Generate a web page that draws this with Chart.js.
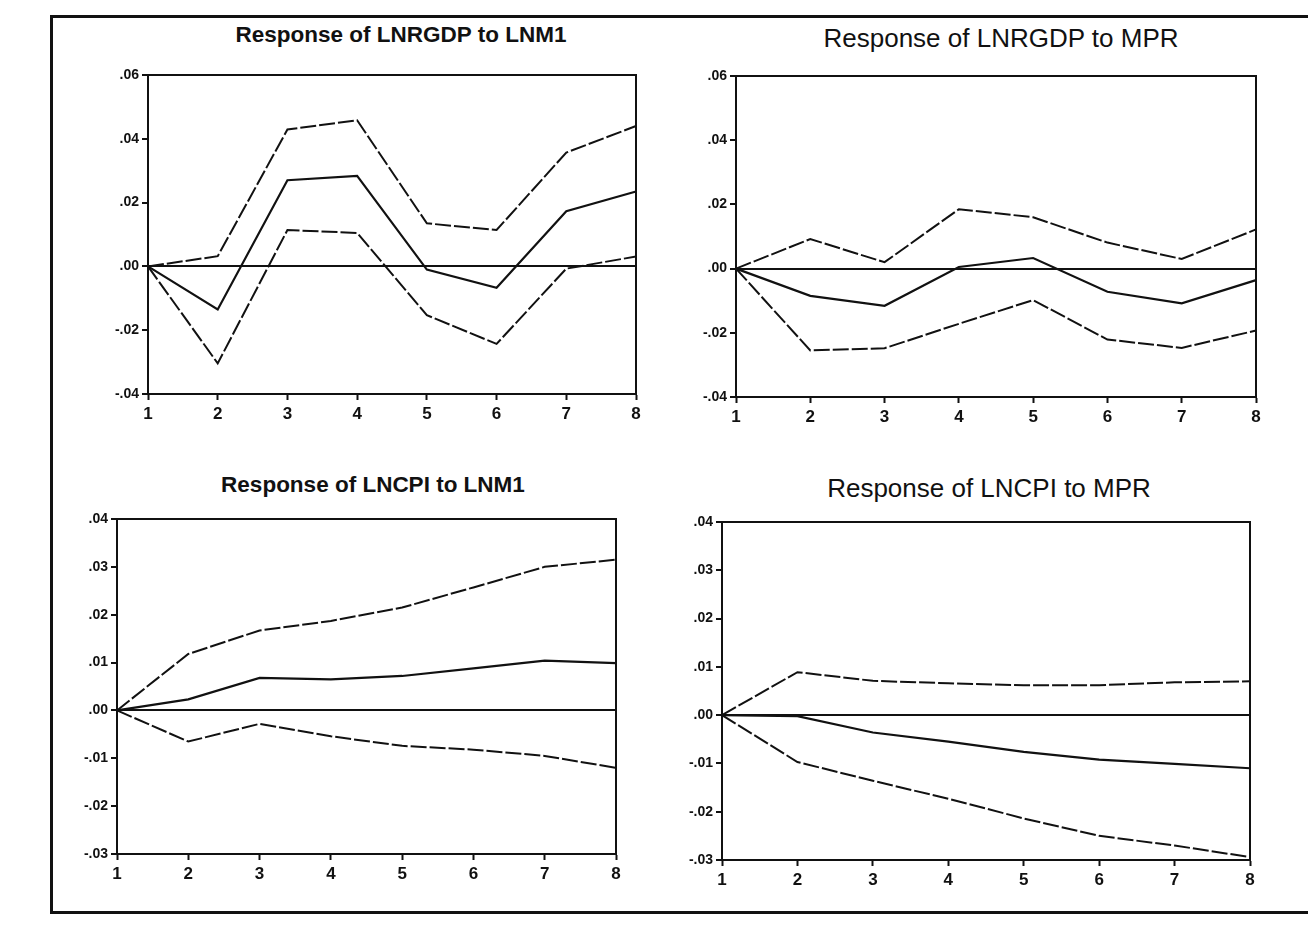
<!DOCTYPE html>
<html>
<head>
<meta charset="utf-8">
<title>Impulse responses</title>
<script src="https://cdn.jsdelivr.net/npm/chart.js@4.4.1/dist/chart.umd.min.js"></script>
<style>
  body { margin: 0; background: #fff; }
  #page { position: relative; width: 1308px; height: 927px; overflow: hidden; background: #fff; }
  #frame { position: absolute; left: 50px; top: 15px; width: 1300px; height: 893px; border: 3px solid #111; }
  canvas { position: absolute; }
  .ttl { position: absolute; width: 640px; text-align: center; color: #111; white-space: nowrap;
         font-family: 'Liberation Sans', Arial, sans-serif; }
</style>
</head>
<body>
<div id="page">
  <div id="frame"></div>
  <canvas id="c1"></canvas>
  <canvas id="c2"></canvas>
  <canvas id="c3"></canvas>
  <canvas id="c4"></canvas>
</div>
<script>
// periods on the x axis
const periods = ['1', '2', '3', '4', '5', '6', '7', '8'];

// Response of LNRGDP to LNM1
const gdpM1Resp  = [0, -0.0135, 0.027, 0.0284, -0.001, -0.0067, 0.0173, 0.0235];
const gdpM1Upper = [0, 0.0032, 0.0429, 0.0458, 0.0135, 0.0114, 0.0357, 0.044];
const gdpM1Lower = [0, -0.0304, 0.0114, 0.0105, -0.0153, -0.0243, -0.0007, 0.0031];

// Response of LNRGDP to MPR
const gdpMprResp  = [0, -0.0085, -0.0116, 0.0005, 0.0033, -0.0072, -0.0108, -0.0036];
const gdpMprUpper = [0, 0.0092, 0.002, 0.0185, 0.016, 0.0081, 0.003, 0.0122];
const gdpMprLower = [0, -0.0255, -0.0248, -0.0172, -0.0098, -0.0221, -0.0247, -0.0193];

// Response of LNCPI to LNM1
const cpiM1Resp  = [0, 0.0023, 0.0068, 0.0065, 0.0072, 0.0088, 0.0104, 0.0099];
const cpiM1Upper = [0, 0.0118, 0.0167, 0.0187, 0.0215, 0.0257, 0.030, 0.0315];
const cpiM1Lower = [0, -0.0065, -0.0028, -0.0054, -0.0074, -0.0082, -0.0095, -0.012];

// Response of LNCPI to MPR
const cpiMprResp  = [0, -0.0002, -0.0036, -0.0055, -0.0076, -0.0092, -0.0101, -0.011];
const cpiMprUpper = [0, 0.0089, 0.0071, 0.0066, 0.0062, 0.0062, 0.0068, 0.007];
const cpiMprLower = [0, -0.0097, -0.0136, -0.0173, -0.0214, -0.025, -0.027, -0.0294];

// y axis ranges
const gdpTicks = { min: -0.04, max: 0.06, step: 0.02 };
const cpiTicks = { min: -0.03, max: 0.04, step: 0.01 };

const FONT = "'Liberation Sans', Arial, sans-serif";

// EViews style tick label: .04, -.02, .00
function evLabel(v) {
  if (Math.abs(v) < 1e-9) return '.00';
  const s = Math.abs(v).toFixed(2).slice(1);
  return (v < 0 ? '-' : '') + s;
}

// draw the top and right sides of the plot box
const boxPlugin = {
  id: 'plotBox',
  afterDraw(chart) {
    const a = chart.chartArea;
    const ctx = chart.ctx;
    ctx.save();
    ctx.strokeStyle = '#111';
    ctx.lineWidth = 2;
    ctx.strokeRect(a.left, a.top, a.right - a.left, a.bottom - a.top);
    ctx.restore();
  }
};

function addTitle(cfg) {
  const d = document.createElement('div');
  d.className = 'ttl';
  d.textContent = cfg.title;
  d.style.fontSize = cfg.titleSize + 'px';
  d.style.fontWeight = cfg.titleBold ? 'bold' : 'normal';
  d.style.lineHeight = Math.round(cfg.titleSize * 1.2) + 'px';
  d.style.left = (cfg.titleX - 320) + 'px';
  d.style.top = (cfg.titleY - Math.round(cfg.titleSize * 0.6)) + 'px';
  document.getElementById('page').appendChild(d);
}

function makePanel(id, cfg) {
  const yW = 50, xH = 34, padTop = 12, padRight = 14;
  const canvas = document.getElementById(id);
  canvas.width = cfg.R - cfg.L + yW + padRight;
  canvas.height = cfg.B - cfg.T + padTop + xH;
  canvas.style.left = (cfg.L - yW) + 'px';
  canvas.style.top = (cfg.T - padTop) + 'px';

  addTitle(cfg);

  const band = { borderColor: '#111', borderWidth: 2, borderDash: [16, 3], pointRadius: 0, tension: 0, fill: false };

  new Chart(canvas, {
    type: 'line',
    data: {
      labels: periods,
      datasets: [
        { ...band, label: 'upper', data: cfg.upper },
        { label: 'response', data: cfg.resp, borderColor: '#111', borderWidth: 2.2, pointRadius: 0, tension: 0, fill: false },
        { ...band, label: 'lower', data: cfg.lower }
      ]
    },
    options: {
      responsive: false,
      animation: false,
      events: [],
      layout: { padding: { left: 0, right: padRight, top: padTop, bottom: 0 } },
      plugins: {
        legend: { display: false },
        tooltip: { enabled: false },
        title: { display: false }
      },
      scales: {
        x: {
          afterFit: s => { s.height = xH; },
          border: { display: true, color: '#111', width: 2 },
          grid: { drawOnChartArea: false, drawTicks: true, tickLength: 6, tickColor: '#111', tickWidth: 2 },
          ticks: { color: '#111', padding: 4, maxRotation: 0, font: { family: FONT, size: 17, weight: 'bold' } }
        },
        y: {
          min: cfg.ticks.min,
          max: cfg.ticks.max,
          afterFit: s => { s.width = yW; },
          border: { display: true, color: '#111', width: 2 },
          grid: {
            drawOnChartArea: true,
            tickLength: 6,
            tickWidth: 2,
            tickColor: '#111',
            lineWidth: 2,
            color: c => (c.tick && Math.abs(c.tick.value) < 1e-9) ? '#111' : 'rgba(0,0,0,0)'
          },
          ticks: {
            stepSize: cfg.ticks.step,
            color: '#111',
            padding: 3,
            font: { family: FONT, size: 14, weight: 'bold' },
            callback: v => evLabel(v)
          }
        }
      }
    },
    plugins: [boxPlugin]
  });
}

makePanel('c1', {
  title: 'Response of LNRGDP to LNM1', titleBold: true, titleSize: 22.5, titleX: 401, titleY: 35,
  L: 148, R: 636, T: 75, B: 394, ticks: gdpTicks,
  resp: gdpM1Resp, upper: gdpM1Upper, lower: gdpM1Lower
});
makePanel('c2', {
  title: 'Response of LNRGDP to MPR', titleBold: false, titleSize: 26, titleX: 1001, titleY: 39,
  L: 736, R: 1256, T: 76, B: 397, ticks: gdpTicks,
  resp: gdpMprResp, upper: gdpMprUpper, lower: gdpMprLower
});
makePanel('c3', {
  title: 'Response of LNCPI to LNM1', titleBold: true, titleSize: 22.5, titleX: 373, titleY: 485,
  L: 117, R: 616, T: 519, B: 854, ticks: cpiTicks,
  resp: cpiM1Resp, upper: cpiM1Upper, lower: cpiM1Lower
});
makePanel('c4', {
  title: 'Response of LNCPI to MPR', titleBold: false, titleSize: 26, titleX: 989, titleY: 489,
  L: 722, R: 1250, T: 522, B: 860, ticks: cpiTicks,
  resp: cpiMprResp, upper: cpiMprUpper, lower: cpiMprLower
});
</script>
</body>
</html>
